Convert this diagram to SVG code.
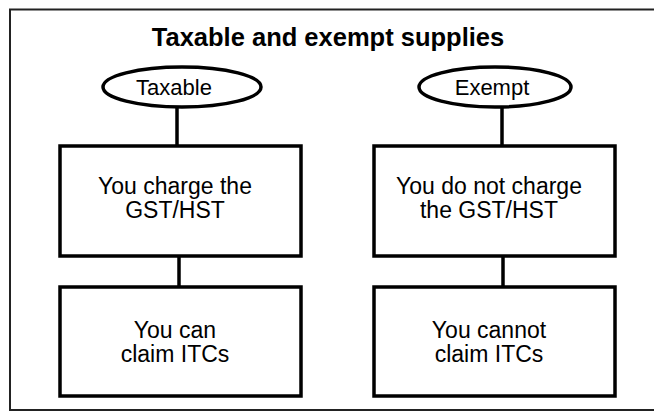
<svg xmlns="http://www.w3.org/2000/svg" width="654" height="412" viewBox="0 0 654 412">
<style>
.frame{fill:none;stroke:#222;stroke-width:2}
.node{fill:#fff;stroke:#000;stroke-width:3.5}
.conn{stroke:#000;stroke-width:3.5;fill:none}
.t{font-family:"Liberation Sans",Arial,sans-serif;font-size:23px;fill:#000;text-anchor:middle}
.e{font-family:"Liberation Sans",Arial,sans-serif;font-size:22px;fill:#000;text-anchor:middle}
.title{font-family:"Liberation Sans",Arial,sans-serif;font-size:25.5px;font-weight:bold;fill:#000;text-anchor:middle}
</style>
<rect width="654" height="412" fill="#fff"/>
<path class="frame" d="M660,9.5 H10 V410 H660"/>
<text class="title" x="328" y="46">Taxable and exempt supplies</text>
<g id="connectors">
<line class="conn" x1="177" y1="107" x2="177" y2="146"/>
<line class="conn" x1="502" y1="107" x2="502" y2="146"/>
<line class="conn" x1="179" y1="256" x2="179" y2="287"/>
<line class="conn" x1="503" y1="256" x2="503" y2="287"/>
</g>
<g id="taxable">
<ellipse class="node" cx="182" cy="87" rx="79" ry="20"/>
<text class="e" x="174" y="95">Taxable</text>
</g>
<g id="exempt">
<ellipse class="node" cx="495" cy="87" rx="76" ry="20"/>
<text class="e" x="492" y="95">Exempt</text>
</g>
<g id="charge">
<rect class="node" x="60" y="146" width="241" height="110"/>
<text class="t" x="175" y="194">You charge the</text>
<text class="t" x="175" y="218">GST/HST</text>
</g>
<g id="nocharge">
<rect class="node" x="374" y="146" width="241" height="110"/>
<text class="t" x="489" y="194">You do not charge</text>
<text class="t" x="489" y="218">the GST/HST</text>
</g>
<g id="canclaim">
<rect class="node" x="60" y="287" width="241" height="109"/>
<text class="t" x="175" y="338">You can</text>
<text class="t" x="175" y="362">claim ITCs</text>
</g>
<g id="cannotclaim">
<rect class="node" x="374" y="287" width="241" height="109"/>
<text class="t" x="489" y="338">You cannot</text>
<text class="t" x="489" y="362">claim ITCs</text>
</g>
</svg>
